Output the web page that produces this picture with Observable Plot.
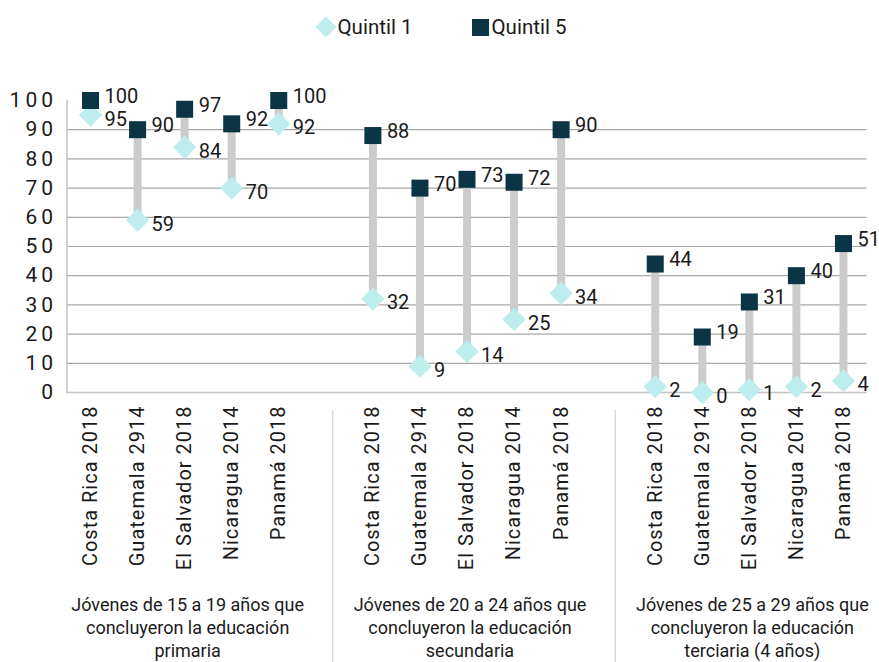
<!DOCTYPE html>
<html>
<head>
<meta charset="utf-8">
<script src="https://cdn.jsdelivr.net/npm/d3@7"></script>
<script src="https://cdn.jsdelivr.net/npm/@observablehq/plot@0.6"></script>
<style>
  body { margin: 0; background: #fff; font-family: Roboto, "Noto Sans", sans-serif; }
  #legend { height: 50px; display: flex; justify-content: center; align-items: center; gap: 56px; font-size: 20.5px; color: #1a1a1a; padding-left: 2px; padding-top: 4px; box-sizing: border-box; }
  .item { display: flex; align-items: center; gap: 1px; }
  .sw { display: inline-block; }
</style>
</head>
<body>
<div id="legend"></div>
<div id="chart"></div>
<script>
const categories = ["Costa Rica 2018", "Guatemala 2914", "El Salvador 2018", "Nicaragua 2014", "Panamá 2018"];
const groups = [
  "Jóvenes de 15 a 19 años que\nconcluyeron la educación\nprimaria",
  "Jóvenes de 20 a 24 años que\nconcluyeron la educación\nsecundaria",
  "Jóvenes de 25 a 29 años que\nconcluyeron la educación\nterciaria (4 años)"
];
const quintil1 = [[95, 59, 84, 70, 92], [32, 9, 14, 25, 34], [2, 0, 1, 2, 4]];
const quintil5 = [[100, 90, 97, 92, 100], [88, 70, 73, 72, 90], [44, 19, 31, 40, 51]];
const yTicks = [0, 10, 20, 30, 40, 50, 60, 70, 80, 90, 100];
const seriesNames = ["Quintil 1", "Quintil 5"];

const colQ1 = "#bdeeed";
const colQ5 = "#0b3445";

// build table: slot index includes one empty slot between groups
const slotsPerGroup = categories.length + 1;
const rows = [];
groups.forEach((g, gi) => {
  categories.forEach((c, ci) => {
    rows.push({slot: gi * slotsPerGroup + ci, group: g, cat: c, q1: quintil1[gi][ci], q5: quintil5[gi][ci]});
  });
});
const slotLabel = new Map(rows.map(r => [r.slot, r.cat]));
const boundaries = groups.slice(1).map((g, gi) => (gi + 1) * slotsPerGroup - 1);
const groupCenters = groups.map((g, gi) => ({g, x: gi * slotsPerGroup + (categories.length - 1) / 2}));
const nSlots = groups.length * slotsPerGroup - 1;

// legend
const legend = document.getElementById("legend");
legend.innerHTML = `
  <span class="item"><svg class="sw" width="22" height="22" viewBox="-11 -11 22 22"><path d="M0,-10.5L10.5,0L0,10.5L-10.5,0Z" fill="${colQ1}"/></svg><span>${seriesNames[0]}</span></span>
  <span class="item"><svg class="sw" width="22" height="22" viewBox="-11 -8 22 22"><rect x="-8" y="-5" width="17" height="17" fill="${colQ5}"/></svg><span>${seriesNames[1]}</span></span>`;

const plot = Plot.plot({
  width: 879,
  height: 612,
  marginTop: 50,
  marginBottom: 270,
  marginLeft: 66.5,
  marginRight: 12.5,
  style: {fontFamily: "Roboto, sans-serif", color: "#1a1a1a", background: "#fff"},
  x: {type: "linear", domain: [-0.5, nSlots - 0.5], axis: null},
  y: {domain: [0, 100], axis: null},
  marks: [
    Plot.gridY(yTicks.filter(v => v > 0 && v < 100), {stroke: "#a8a8a8", strokeOpacity: 1, strokeWidth: 1.2}),
    Plot.ruleY([0], {stroke: "#c4c4c4", strokeWidth: 1.5}),
    Plot.frame({anchor: "left", stroke: "#c4c4c4", strokeWidth: 1.5}),
    Plot.axisY({ticks: yTicks, tickSize: 0, tickPadding: 10, fontSize: 21, tickFormat: d => d, fill: "#1a1a1a"}),
    Plot.axisX({ticks: rows.map(r => r.slot), tickFormat: d => slotLabel.get(d) ?? "", tickSize: 0, tickPadding: 13, tickRotate: -90, fontSize: 20, fill: "#1a1a1a", anchor: "bottom"}),
    Plot.ruleX(boundaries, {x: d => d, dx: 7, stroke: "#cfcfcf", strokeWidth: 1.2, insetTop: 310, insetBottom: -270}),
    Plot.text(groupCenters, {x: "x", text: "g", frameAnchor: "bottom", dy: 234, dx: 3, lineAnchor: "middle", lineHeight: 1.27, fontSize: 18, fill: "#1a1a1a"}),
    Plot.ruleX(rows, {x: "slot", y1: "q1", y2: "q5", stroke: "#cccccc", strokeWidth: 8}),
    Plot.dot(rows, {x: "slot", y: "q1", symbol: "diamond2", r: 10.5, fill: colQ1, stroke: "none"}),
    Plot.dot(rows, {x: "slot", y: "q5", symbol: "square", r: 9.6, fill: colQ5, stroke: "none"}),
    Plot.text(rows, {x: "slot", y: "q1", text: d => String(d.q1), textAnchor: "start", dx: 14, dy: 4, fontSize: 20, fill: "#1a1a1a"}),
    Plot.text(rows, {x: "slot", y: "q5", text: d => String(d.q5), textAnchor: "start", dx: 14, dy: -4, fontSize: 20, fill: "#1a1a1a"})
  ]
});
plot.querySelectorAll('[aria-label="y-axis tick label"] text').forEach(t => t.setAttribute("letter-spacing", "4"));
plot.querySelectorAll('[aria-label="x-axis tick label"] text').forEach(t => t.setAttribute("letter-spacing", "1"));
document.getElementById("chart").appendChild(plot);
</script>
</body>
</html>
